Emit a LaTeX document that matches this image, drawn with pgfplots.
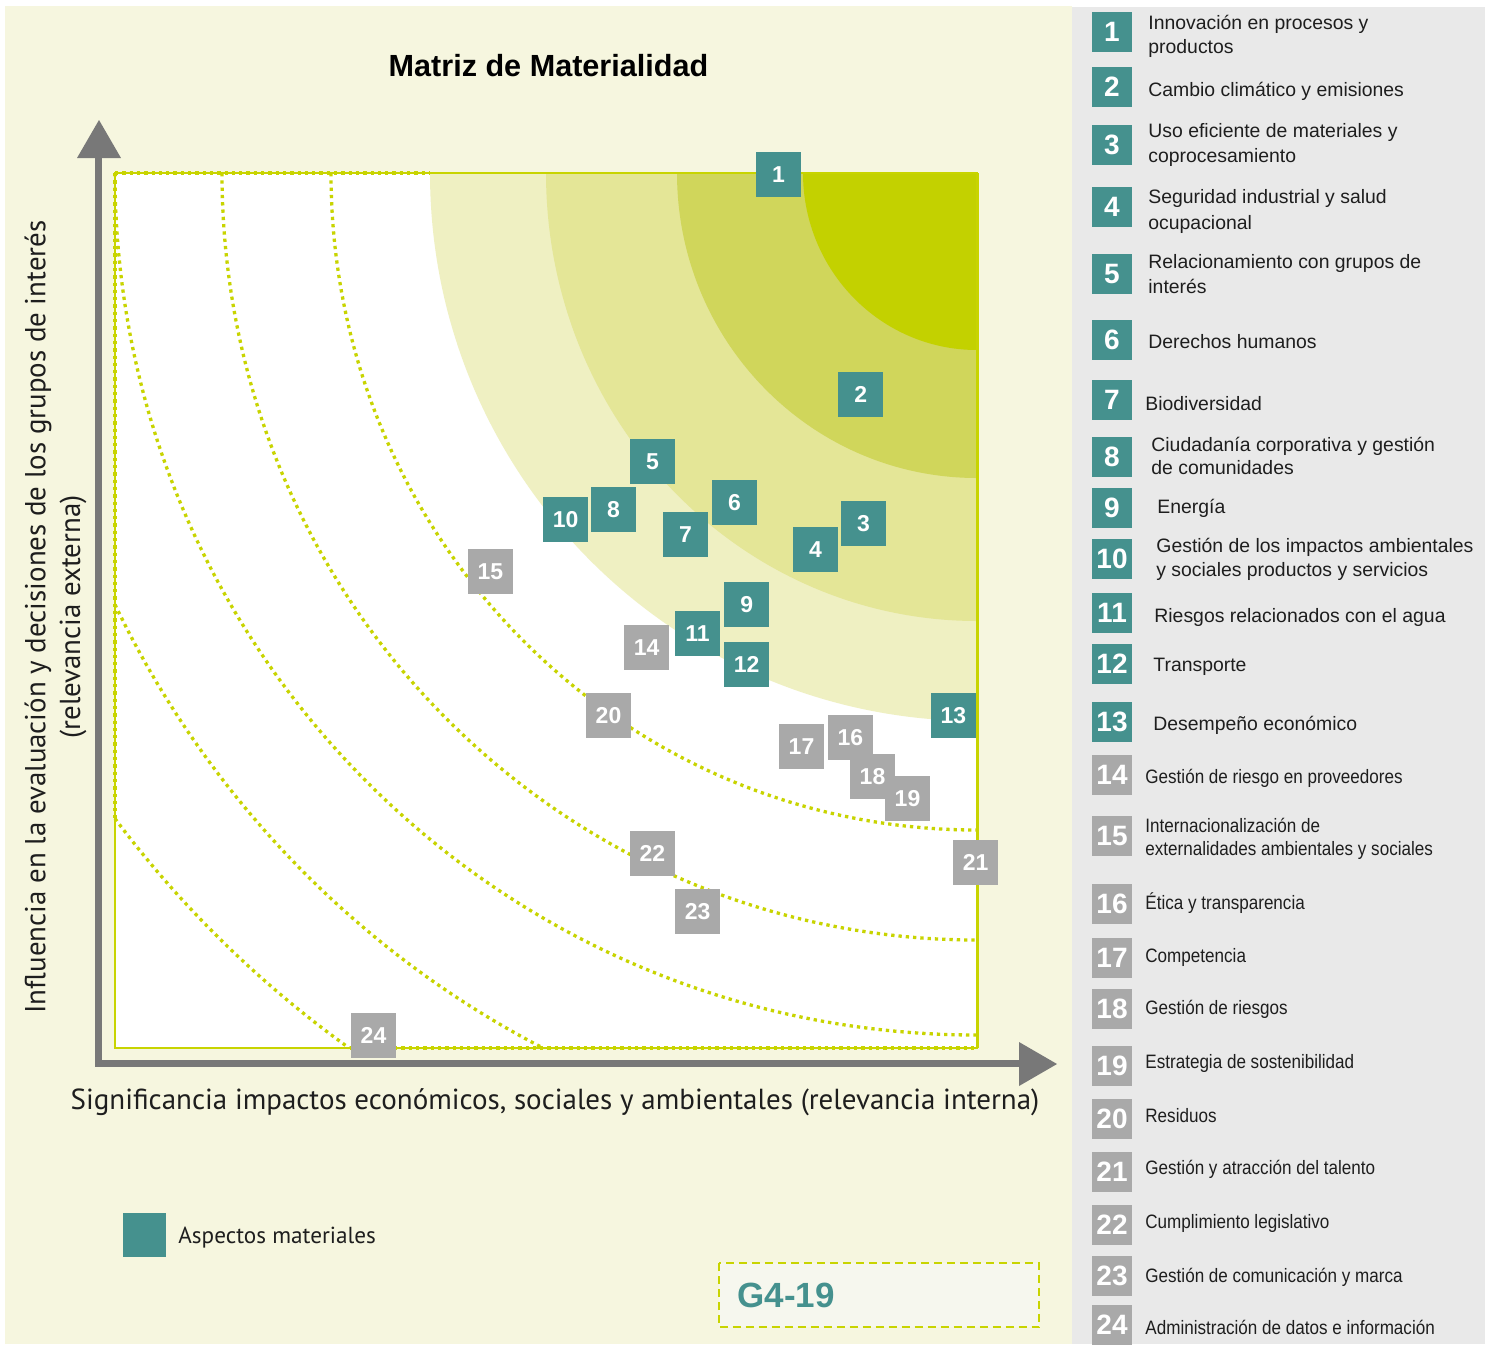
\documentclass[border=0pt]{standalone}
\usepackage{fontspec}
\setmainfont{Liberation Sans}
\newfontfamily\ptsans{PT Sans}
\newfontfamily\condfont[FakeStretch=0.88]{Liberation Sans}
\usepackage{pgfplots}
\pgfplotsset{compat=1.18}

\definecolor{teal1}{HTML}{45918E}
\definecolor{grayb}{HTML}{A9A9A9}
\definecolor{creambg}{HTML}{F6F6DF}
\definecolor{panelgray}{HTML}{E9E9E9}
\definecolor{band1}{HTML}{EFF0C2}
\definecolor{band2}{HTML}{E4E697}
\definecolor{band3}{HTML}{D0D65B}
\definecolor{band4}{HTML}{C3D100}
\definecolor{lime}{HTML}{C8D400}
\definecolor{axgray}{HTML}{787878}
\definecolor{g4fill}{HTML}{F6F7EE}
\definecolor{txtc}{HTML}{1E1E1E}

\tikzset{dotl/.style={lime, line width=1.65pt, dash pattern=on 1.65pt off 2pt}}

\newcommand{\pb}[3]{\fill[#1] (1092,#2) rectangle (1132,#2+40);
  \node[text=white,font=\bfseries\fontsize{14}{14}\selectfont,inner sep=0pt] at (1112,#2+20) {#3};}
\newcommand{\tx}[3]{\node[anchor=base west,inner sep=0pt,text=txtc,font=\fontsize{9.7}{12}\selectfont] at (#1,#2) {#3};}
\newcommand{\tc}[3]{\node[anchor=base west,inner sep=0pt,text=txtc,font=\condfont\fontsize{9.7}{12}\selectfont] at (#1,#2) {#3};}

\begin{document}
\begin{tikzpicture}
\begin{scope}[x=0.5pt,y=-0.5pt]
\useasboundingbox (0,0) rectangle (1491,1344);
\fill[white] (0,0) rectangle (1491,1344);
\fill[creambg] (5,6) rectangle (1072,1344);
\fill[panelgray] (1072,7) rectangle (1485,1344);
% title
\node[anchor=base,inner sep=0pt,text=black,font=\bfseries\fontsize{15.3}{18}\selectfont] at (548.5,76) {Matriz de Materialidad};
% axis arrows
\fill[axgray] (95,158) rectangle (102,1067);
\fill[axgray] (77,158) -- (121,158) -- (99,120) -- cycle;
\fill[axgray] (95,1060) rectangle (1019,1067);
\fill[axgray] (1019,1042) -- (1019,1086) -- (1057,1064) -- cycle;
% axis labels
\node[rotate=90,inner sep=0pt,text=txtc,font=\ptsans\fontsize{14.45}{16}\selectfont] at (38,617) {Influencia en la evaluación y decisiones de los grupos de interés};
\node[rotate=90,inner sep=0pt,text=txtc,font=\ptsans\fontsize{14.45}{16}\selectfont] at (73,617) {(relevancia externa)};
\node[anchor=base,inner sep=0pt,text=txtc,font=\ptsans\fontsize{14.5}{16}\selectfont] at (555,1109) {Significancia impactos económicos, sociales y ambientales (relevancia interna)};
% legend
\fill[teal1] (123,1213) rectangle (166,1257);
\node[anchor=base west,inner sep=0pt,text=txtc,font=\ptsans\fontsize{11.6}{14}\selectfont] at (178,1243) {Aspectos materiales};
% G4 box
\draw[lime,line width=1pt,dash pattern=on 4pt off 2.5pt,fill=g4fill] (718.5,1263) rectangle (1039,1327);
\node[anchor=base west,inner sep=0pt,text=teal1,font=\bfseries\fontsize{17.5}{18}\selectfont] at (737,1307) {G4-19};
% right panel
\pb{teal1}{12}{1} \tx{1148}{29}{Innovación en procesos y} \tx{1148}{53}{productos}
\pb{teal1}{67}{2} \tx{1148}{96}{Cambio climático y emisiones}
\pb{teal1}{125}{3} \tx{1148}{137}{Uso eficiente de materiales y} \tx{1148}{162}{coprocesamiento}
\pb{teal1}{187}{4} \tx{1148}{203}{Seguridad industrial y salud} \tx{1148}{229}{ocupacional}
\pb{teal1}{254}{5} \tx{1148}{268}{Relacionamiento con grupos de} \tx{1148}{293}{interés}
\pb{teal1}{320}{6} \tx{1148}{348}{Derechos humanos}
\pb{teal1}{380}{7} \tx{1145}{410}{Biodiversidad}
\pb{teal1}{437}{8} \tx{1151}{451}{Ciudadanía corporativa y gestión} \tx{1151}{474}{de comunidades}
\pb{teal1}{488}{9} \tx{1157}{513}{Energía}
\pb{teal1}{539}{10} \tx{1156}{552}{Gestión de los impactos ambientales} \tx{1156}{576}{y sociales productos y servicios}
\pb{teal1}{593}{11} \tx{1154}{622}{Riesgos relacionados con el agua}
\pb{teal1}{644}{12} \tx{1153}{671}{Transporte}
\pb{teal1}{702}{13} \tx{1153}{730}{Desempeño económico}
\pb{grayb}{755}{14} \tc{1145}{783}{Gestión de riesgo en proveedores}
\pb{grayb}{816}{15} \tc{1145}{832}{Internacionalización de} \tc{1145}{855}{externalidades ambientales y sociales}
\pb{grayb}{884}{16} \tc{1145}{909}{Ética y transparencia}
\pb{grayb}{938}{17} \tc{1145}{962}{Competencia}
\pb{grayb}{989}{18} \tc{1145}{1014}{Gestión de riesgos}
\pb{grayb}{1046}{19} \tc{1145}{1068}{Estrategia de sostenibilidad}
\pb{grayb}{1099}{20} \tc{1145}{1122}{Residuos}
\pb{grayb}{1152}{21} \tc{1145}{1174}{Gestión y atracción del talento}
\pb{grayb}{1205}{22} \tc{1145}{1228}{Cumplimiento legislativo}
\pb{grayb}{1256}{23} \tc{1145}{1282}{Gestión de comunicación y marca}
\pb{grayb}{1305}{24} \tc{1145}{1334}{Administración de datos e información}
\end{scope}

\begin{axis}[
  at={(57.5pt,-524pt)}, anchor=south west,
  scale only axis, width=431pt, height=437.5pt,
  xmin=0, xmax=100, ymin=0, ymax=100,
  hide axis, clip=false,
]
\fill[white] (axis cs:0,0) rectangle (axis cs:100,100);
% materiality bands (quarter ellipses around the top-right corner)
\fill[band1] (axis cs:100,100) -- ([xshift=-273.5pt]axis cs:100,100) arc[start angle=180,end angle=270,x radius=273.5pt,y radius=274pt] -- cycle;
\fill[band2] (axis cs:100,100) -- ([xshift=-215.5pt]axis cs:100,100) arc[start angle=180,end angle=270,x radius=215.5pt,y radius=224pt] -- cycle;
\fill[band3] (axis cs:100,100) -- ([xshift=-150pt]axis cs:100,100) arc[start angle=180,end angle=270,x radius=150pt,y radius=152.5pt] -- cycle;
\fill[band4] (axis cs:100,100) -- ([xshift=-87pt]axis cs:100,100) arc[start angle=180,end angle=270,x radius=87pt,y radius=88.5pt] -- cycle;
% dotted contour arcs
\draw[dotl] ([xshift=-323pt]axis cs:100,100) arc[start angle=180,end angle=270,x radius=323pt,y radius=328.5pt];
\draw[dotl] ([xshift=-377.5pt]axis cs:100,100) arc[start angle=180,end angle=270,x radius=377.5pt,y radius=383.5pt];
\draw[dotl] ([xshift=-431pt]axis cs:100,100) arc[start angle=180,end angle=270,x radius=431pt,y radius=431pt];
\draw[dotl] ([xshift=-431pt,yshift=-215.8pt]axis cs:100,100) arc[start angle=206.1,end angle=243.1,x radius=480pt,y radius=490.5pt];
\draw[dotl] ([xshift=-431pt,yshift=-322.8pt]axis cs:100,100) arc[start angle=216.83,end angle=234.33,x radius=538.5pt,y radius=538.5pt];
% frame
\draw[lime,line width=0.6pt] (axis cs:0,0) rectangle (axis cs:100,100);
\draw[lime,line width=1pt] (axis cs:36.5,100) -- (axis cs:100,100);
\draw[lime,line width=1.5pt] (axis cs:100,100) -- (axis cs:100,0);
\draw[dotl] (axis cs:0,100) -- (axis cs:36.5,100);
\draw[dotl] (axis cs:0,100) -- (axis cs:0,26.3);
\draw[dotl] (axis cs:27.3,0) -- (axis cs:100,0);

% material aspects
\addplot[draw=none, mark=none, point meta=explicit symbolic, nodes near coords,
  every node near coord/.append style={anchor=center, fill=teal1, text=white, minimum size=22.5pt, inner sep=0pt, font=\bfseries\fontsize{11.5}{12}\selectfont}]
coordinates {
 (76.97,99.85) [1]
 (86.50,74.70) [2]
 (86.84,59.97) [3]
 (81.26,56.99) [4]
 (62.35,67.05) [5]
 (71.87,62.37) [6]
 (66.19,58.70) [7]
 (57.83,61.55) [8]
 (73.28,50.69) [9]
 (52.27,60.42) [10]
 (67.58,47.39) [11]
 (73.28,43.85) [12]
 (97.27,38.01) [13]
};
% other aspects
\addplot[draw=none, mark=none, point meta=explicit symbolic, nodes near coords,
  every node near coord/.append style={anchor=center, fill=grayb, text=white, minimum size=22.5pt, inner sep=0pt, font=\bfseries\fontsize{11.5}{12}\selectfont}]
coordinates {
 (61.67,45.79) [14]
 (43.56,54.47) [15]
 (85.32,35.49) [16]
 (79.64,34.46) [17]
 (87.88,31.03) [18]
 (91.94,28.51) [19]
 (57.25,38.01) [20]
 (99.83,21.20) [21]
 (62.35,22.23) [22]
 (67.58,15.60) [23]
 (29.99,1.43) [24]
};
\end{axis}
\end{tikzpicture}
\end{document}
